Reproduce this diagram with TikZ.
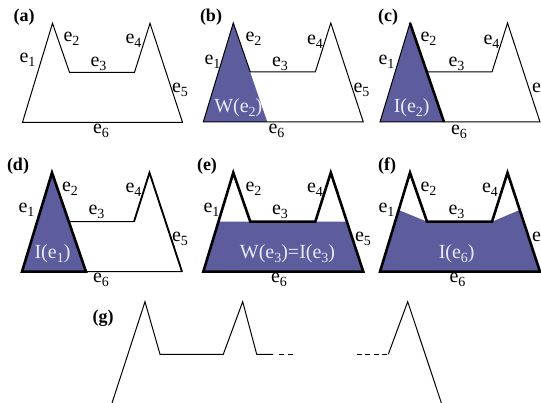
\documentclass[tikz,border=0pt]{standalone}
\usepackage{fontspec}
\setmainfont{Liberation Serif}
\definecolor{fillc}{RGB}{93,93,158}
\definecolor{txtc}{RGB}{234,234,246}
\newcommand{\lsub}[1]{\raisebox{-4pt}{\fontsize{14}{14}\selectfont #1}}
\newcommand{\el}[1]{e\lsub{#1}}
\newcommand{\defpanel}[3]{%
  \begin{scope}[shift={(#2,#3)}]
    \coordinate (#1bl) at (0,0);
    \coordinate (#1pl) at (30,-99);
    \coordinate (#1vl) at (47,-50);
    \coordinate (#1vr) at (112,-50);
    \coordinate (#1pr) at (127.5,-99);
    \coordinate (#1br) at (160,0);
    \coordinate (#1tb) at (64,0);
    \coordinate (#1wa) at (15.2,-50);
    \coordinate (#1wb) at (143.6,-50);
    \coordinate (#1fa) at (18.7,-61.7);
    \coordinate (#1fb) at (139.7,-61.7);
  \end{scope}}
\begin{document}
\begin{tikzpicture}[x=1pt,y=-1pt,
  lbl/.style={font=\fontsize{20}{22}\selectfont, inner sep=0pt},
  wlbl/.style={font=\fontsize{20}{22}\selectfont, inner sep=0pt, text=txtc},
  tag/.style={font=\fontsize{18}{20}\selectfont\bfseries, inner sep=0pt},
  ln/.style={line width=1pt, black},
  lnb/.style={line width=2.6pt, black},
  dsh/.style={line width=1pt, black, dash pattern=on 5pt off 3.5pt}]
\useasboundingbox (0,0) rectangle (541,403);
\fill[white] (0,0) rectangle (541,403);
\defpanel{a}{22.5}{122.3}
\defpanel{b}{203.3}{122}
\defpanel{c}{380}{122}
\defpanel{d}{22}{271.7}
\defpanel{e}{203.3}{271.7}
\defpanel{f}{380}{271.7}
% (a)
\draw[ln] (abl)--(apl)--(avl)--(avr)--(apr)--(abr)--cycle;
\node[tag] (ta) at (24,17) {(a)};
\node[lbl] (a1) at (27.5,60) {\el{1}};
\node[lbl] (a2) at (71.5,38.5) {\el{2}};
\node[lbl] (a3) at (98.5,64) {\el{3}};
\node[lbl] (a4) at (133.5,41) {\el{4}};
\node[lbl] (a5) at (180,90) {\el{5}};
\node[lbl] (a6) at (101,131) {\el{6}};
% (b)
\fill[fillc] (bbl)--(bpl)--(btb)--cycle;
\draw[ln] (bbl)--(bpl)--(bvl)--(bvr)--(bpr)--(bbr)--cycle;
\node[tag] (tb) at (211,17) {(b)};
\node[lbl] (b1) at (212.5,61.5) {\el{1}};
\node[lbl] (b2) at (253.5,38.5) {\el{2}};
\node[lbl] (b3) at (280,63.5) {\el{3}};
\node[lbl] (b4) at (315,41.5) {\el{4}};
\node[lbl] (b5) at (361.5,90) {\el{5}};
\node[lbl] (b6) at (276.5,131) {\el{6}};
\node[wlbl] (bw) at (238.3,107.5) {W(\el{2})};
% (c)
\fill[fillc] (cbl)--(cpl)--(ctb)--cycle;
\draw[ln] (cbl)--(cpl)--(cvl)--(cvr)--(cpr)--(cbr)--cycle;
\draw[lnb] (cpl)--(ctb);
\node[tag] (tc) at (388,17) {(c)};
\node[lbl] (c1) at (386.5,61.5) {\el{1}};
\node[lbl] (c2) at (428.5,38.5) {\el{2}};
\node[lbl] (c3) at (456.5,63.5) {\el{3}};
\node[lbl] (c4) at (491.5,41.5) {\el{4}};
\node[lbl] (c5) at (540,90) {\el{5}};
\node[lbl] (c6) at (459,132) {\el{6}};
\node[wlbl] (cw) at (411.7,107.5) {I(\el{2})};
% (d)
\fill[fillc] (dbl)--(dpl)--(dtb)--cycle;
\draw[ln] (dbl)--(dpl)--(dvl)--(dvr)--(dpr)--(dbr)--cycle;
\draw[lnb] (dtb)--(dbl)--(dpl)--cycle;
\draw[line width=1.8pt] (dvr)--(dpr)--(dbr);
\node[tag] (td) at (18,166) {(d)};
\node[lbl] (d1) at (26.5,210) {\el{1}};
\node[lbl] (d2) at (70,188.5) {\el{2}};
\node[lbl] (d3) at (96.5,211.5) {\el{3}};
\node[lbl] (d4) at (133.5,190) {\el{4}};
\node[lbl] (d5) at (180,238.5) {\el{5}};
\node[lbl] (d6) at (101,280) {\el{6}};
\node[wlbl] (dw) at (52.5,253.5) {I(\el{1})};
% (e)
\fill[fillc] (ebl)--(ewa)--(ewb)--(ebr)--cycle;
\draw[lnb] (ebl)--(epl)--(evl)--(evr)--(epr)--(ebr)--cycle;
\node[tag] (te) at (207,166) {(e)};
\node[lbl] (e1) at (211.5,210) {\el{1}};
\node[lbl] (e2) at (253.5,188.5) {\el{2}};
\node[lbl] (e3) at (280,211.5) {\el{3}};
\node[lbl] (e4) at (315,190) {\el{4}};
\node[lbl] (e5) at (363,238.5) {\el{5}};
\node[lbl] (e6) at (279,280) {\el{6}};
\node[wlbl] (ew) at (287.5,253.5) {W(\el{3})=I(\el{3})};
% (f)
\fill[fillc] (fbl)--(ffa)--(fvl)--(fvr)--(ffb)--(fbr)--cycle;
\draw[lnb] (fbl)--(fpl)--(fvl)--(fvr)--(fpr)--(fbr)--cycle;
\node[tag] (tf) at (387,166) {(f)};
\node[lbl] (f1) at (386.5,210) {\el{1}};
\node[lbl] (f2) at (428.5,188.5) {\el{2}};
\node[lbl] (f3) at (456.5,211.5) {\el{3}};
\node[lbl] (f4) at (490,190) {\el{4}};
\node[lbl] (f5) at (540,238.5) {\el{5}};
\node[lbl] (f6) at (457.5,280) {\el{6}};
\node[wlbl] (fw) at (456.7,253.5) {I(\el{6})};
% (g)
\node[tag] (tg) at (103,318) {(g)};
\coordinate (g0) at (111.7,404);
\coordinate (g1) at (145,301.7);
\coordinate (g2) at (160,354.3);
\coordinate (g3) at (223.3,354.3);
\coordinate (g4) at (242.7,301.7);
\coordinate (g5) at (256.7,354.3);
\coordinate (g6) at (273.3,354.3);
\coordinate (g7) at (279.3,354.3);
\coordinate (g8) at (293,354.3);
\coordinate (g9) at (356.7,354.3);
\coordinate (g10) at (388.3,354.3);
\coordinate (g11) at (407.7,301.7);
\coordinate (g12) at (441.7,404);
\draw[ln] (g0)--(g1)--(g2)--(g3)--(g4)--(g5)--(g6);
\draw[dsh] (g7)--(g8);
\draw[dsh] (g9)--(g10);
\draw[ln] (g10)--(g11)--(g12);
\end{tikzpicture}
\end{document}
